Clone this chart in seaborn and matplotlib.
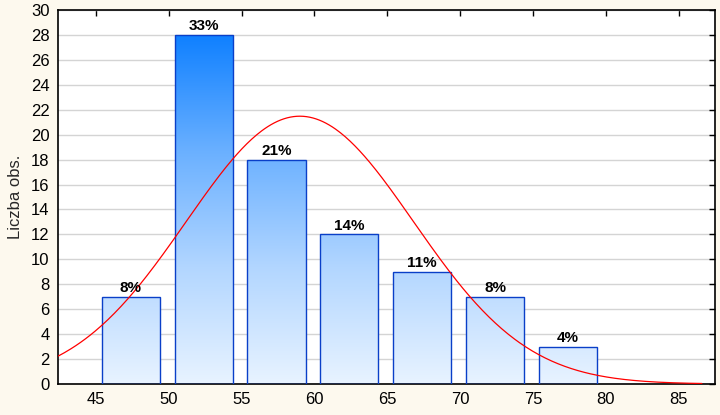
import numpy as np
import pandas as pd
import matplotlib
matplotlib.use("Agg")
import matplotlib.pyplot as plt
from matplotlib.colors import LinearSegmentedColormap
import seaborn as sns

# Data
bin_centers = [47.4, 52.4, 57.4, 62.4, 67.4, 72.4, 77.4]
counts = [7, 28, 18, 12, 9, 7, 3]
pct_labels = ["8%", "33%", "21%", "14%", "11%", "8%", "4%"]
fit_mean = 59.0
fit_sd = 7.8
bin_width = 5.0
x_ticks = [45, 50, 55, 60, 65, 70, 75, 80, 85]
y_ticks = list(range(0, 31, 2))

sns.set_theme(style="white")
plt.rcParams['font.family'] = ['Liberation Sans', 'DejaVu Sans']

bg = '#FDF9EE'
fig = plt.figure(figsize=(7.2, 4.15), dpi=100, facecolor=bg)
ax = fig.add_axes([58/720, 31/415, 657/720, 374/415])
ax.set_facecolor('white')

df = pd.DataFrame({"x": bin_centers, "y": counts})
sns.barplot(data=df, x="x", y="y", native_scale=True, width=0.8,
            color='#80B8FF', edgecolor='#0A3FC8', linewidth=1.0, ax=ax, zorder=3)

ax.set_xlim(42.4, 87.5)
ax.set_ylim(0, 30)

cmap = LinearSegmentedColormap.from_list("g", ['#E8F3FF', '#B2D6FF', '#6AB0FF', '#0F80FF'])
grad = np.linspace(0, 1, 256).reshape(-1, 1)
for p in ax.patches:
    p.set_facecolor('none')
    im = ax.imshow(grad, extent=(42.4, 87.5, 0, 28), origin='lower', aspect='auto',
                   cmap=cmap, zorder=2)
    im.set_clip_path(p)
ax.set_xlim(42.4, 87.5)
ax.set_ylim(0, 30)

# Fitted normal curve
xs = np.linspace(42.4, 86.6, 400)
ys = sum(counts) * bin_width / (fit_sd * np.sqrt(2 * np.pi)) * np.exp(-0.5 * ((xs - fit_mean) / fit_sd) ** 2)
sns.lineplot(x=xs, y=ys, color='#FF0000', linewidth=0.9, ax=ax, zorder=5)

for cx, c, lab in zip(bin_centers, counts, pct_labels):
    ax.text(cx, c + 0.15, lab, ha='center', va='bottom', fontsize=11,
            fontweight='bold', color='#000000', zorder=6)

ax.set_xticks(x_ticks)
ax.set_yticks(y_ticks)
ax.set_xticklabels([str(t) for t in x_ticks])
ax.set_yticklabels([str(t) for t in y_ticks])
ax.yaxis.grid(True, color='#D4D4D4', linewidth=1.0, zorder=0)
ax.xaxis.grid(False)
ax.set_axisbelow(True)
ax.tick_params(axis='both', direction='in', length=4, width=1, color='black',
               labelsize=12, labelcolor='#000000', top=True, right=True,
               labeltop=False, labelright=False, pad=6)
for s in ax.spines.values():
    s.set_color('black')
    s.set_linewidth(1.2)
    s.set_visible(True)
ax.set_xlabel('')
ax.set_ylabel('Liczba obs.', fontsize=12, labelpad=6)

fig.savefig('out.png', dpi=100, facecolor=bg)
